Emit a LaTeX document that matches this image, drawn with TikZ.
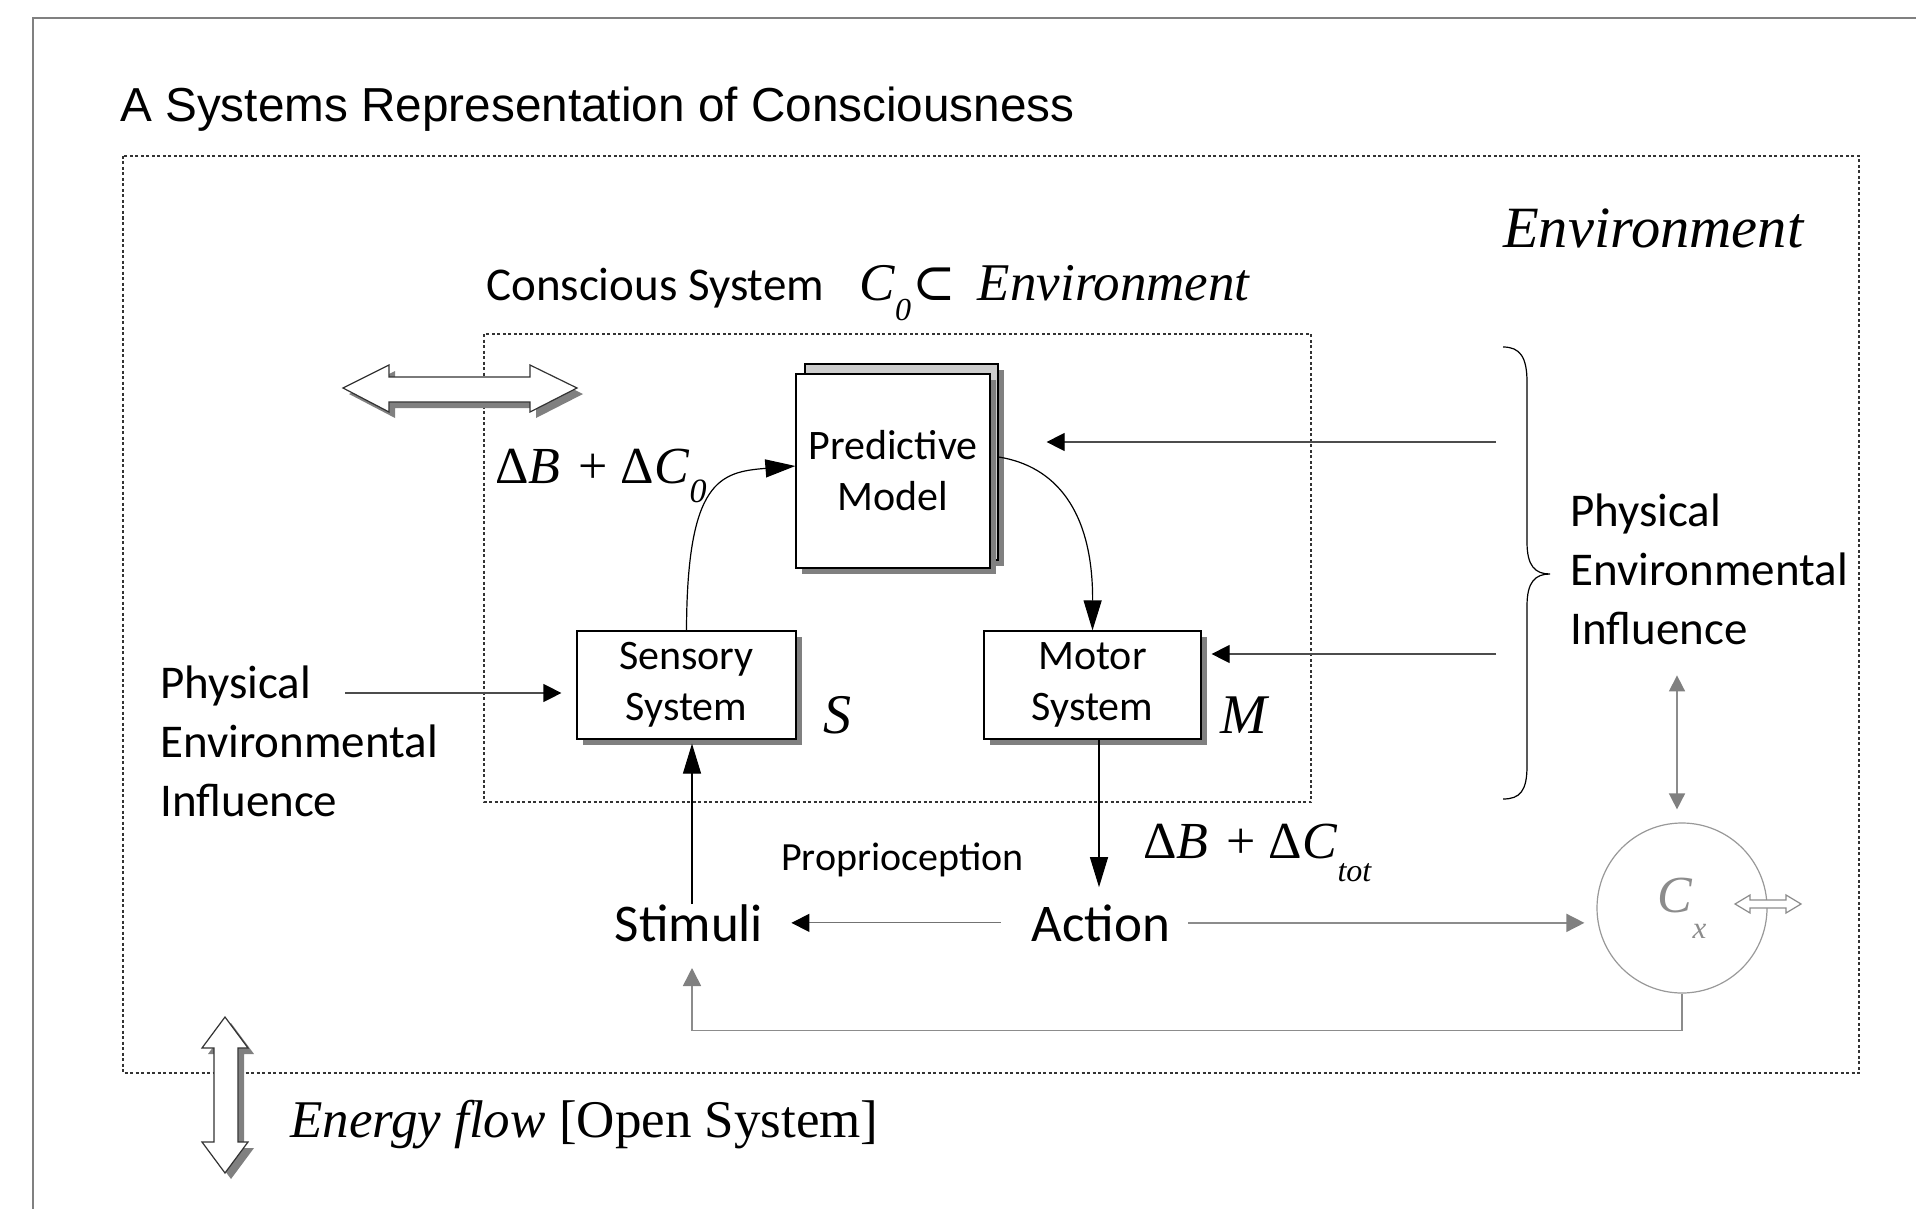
\documentclass[tikz,border=0pt]{standalone}
\usepackage{fontspec}
\setmainfont{Liberation Serif}
\newfontfamily\calfont{Carlito}
\newfontfamily\arifont{Liberation Sans}
\newfontfamily\dejafont{DejaVu Serif}
\usetikzlibrary{arrows.meta,shadows,calc}
\begin{document}
\begin{tikzpicture}[x=1pt,y=-1pt,
  box/.style={draw=black, line width=1.2pt, fill=white, inner sep=0pt,
    drop shadow={shadow xshift=6pt, shadow yshift=-6pt, fill=black!50, opacity=1},
    font=\calfont\fontsize{42}{51}\selectfont, align=center},
  dotted frame/.style={draw=black!80, line width=1.2pt, dash pattern=on 3pt off 2.5pt},
  bigarr/.style={draw=black, line width=1.2pt, -{Triangle[length=30pt,width=18pt]}},
  smarr/.style={draw=black!70, line width=1.2pt, -{Triangle[length=18pt,width=18pt,color=black]}},
  garr/.style={draw=black!45, line width=1.6pt, -{Triangle[length=18pt,width=18pt,color=black!50]}},
  gdarr/.style={draw=black!45, line width=1.6pt, {Triangle[length=16pt,width=16pt,color=black!50]}-{Triangle[length=16pt,width=16pt,color=black!50]}},
  caltext/.style={font=\calfont\fontsize{47}{59}\selectfont, inner sep=0pt, align=left},
  plain/.style={inner sep=0pt}
]
\useasboundingbox (0,0) rectangle (1916,1209);
\fill[white] (0,0) rectangle (1916,1209);
% page border
\draw[black!50, line width=2.5pt] (33,1209) -- (33,18) -- (1916,18);
% title
\node[plain, anchor=base west, font=\arifont\fontsize{47.7}{58}\selectfont] (title) at (120,122) {A Systems Representation of Consciousness};
% environment frame
\draw[dotted frame] (123,156) rectangle (1859,1073);
\node[plain, anchor=base west, font=\itshape\fontsize{58.5}{68}\selectfont] (envlab) at (1503,247) {Environment};
% conscious system frame
\draw[dotted frame] (484,334) rectangle (1311,802);
\node[plain, anchor=base west, font=\calfont\fontsize{47}{56}\selectfont] (cslab) at (486,300) {Conscious System};
\node[plain, anchor=base west, font=\fontsize{53}{60}\selectfont] (csmath) at (859,300)
  {\textit{C}\raisebox{-0.38em}{\fontsize{32}{32}\selectfont\textit{0}}\hspace{1pt}{\dejafont\fontsize{52}{56}\selectfont ⊂}\hspace{0.42em}\textit{Environment}};
% block arrow top-left
\fill[black!50] ($(343,388)+(6,6)$) -- ++(46,-23) -- ++(0,12) -- ++(141,0) -- ++(0,-12) -- ++(47,23) -- ++(-47,24) -- ++(0,-10) -- ++(-141,0) -- ++(0,10) -- cycle;
\draw[black!80, line width=1.2pt, fill=white] (343,388) -- ++(46,-23) -- ++(0,12) -- ++(141,0) -- ++(0,-12) -- ++(47,23) -- ++(-47,24) -- ++(0,-10) -- ++(-141,0) -- ++(0,10) -- cycle;
% energy arrow
\fill[black!50] ($(225,1017)+(6,6)$) -- ++(23,31) -- ++(-10,0) -- ++(0,94) -- ++(10,0) -- ++(-23,31) -- ++(-23,-31) -- ++(12,0) -- ++(0,-94) -- ++(-12,0) -- cycle;
\draw[black!80, line width=1.2pt, fill=white] (225,1017) -- ++(23,31) -- ++(-10,0) -- ++(0,94) -- ++(10,0) -- ++(-23,31) -- ++(-23,-31) -- ++(12,0) -- ++(0,-94) -- ++(-12,0) -- cycle;
\node[plain, anchor=base west, font=\fontsize{53}{60}\selectfont] (energy) at (290,1137) {\textit{Energy flow} [Open System]};
% predictive model
\node[box, fill=black!20, minimum width=193pt, minimum height=196pt] (pmback) at (901.5,462) {};
\node[box, minimum width=194pt, minimum height=194pt] (pm) at (893,471) {Predictive\\Model};
% sensory / motor
\node[box, minimum width=219pt, minimum height=108pt] (ss) at (686.5,685) {Sensory\\System};
\node[box, minimum width=217pt, minimum height=108pt] (ms) at (1092.5,685) {Motor\\System};
\node[plain, anchor=base, font=\itshape\fontsize{56}{60}\selectfont] (slab) at (837,733) {S};
\node[plain, anchor=base, font=\itshape\fontsize{56}{60}\selectfont] (mlab) at (1244,733) {M};
% delta labels
\node[plain, anchor=base west, font=\fontsize{52}{60}\selectfont] (dc0) at (495,483)
  {Δ\textit{B}\hspace{0.35em}+\hspace{0.25em}Δ\textit{C}\raisebox{-0.38em}{\fontsize{34}{34}\selectfont\textit{0}}};
\node[plain, anchor=base west, font=\fontsize{52}{60}\selectfont] (dctot) at (1143,858)
  {Δ\textit{B}\hspace{0.35em}+\hspace{0.25em}Δ\textit{C}\raisebox{-0.45em}{\fontsize{32}{32}\selectfont\textit{tot}}};
% physical influence texts (anchor = baseline of last line)
\node[caltext, anchor=base west] (phl) at (160,816) {Physical\\Environmental\\Influence};
\node[caltext, anchor=base west] (phr) at (1570,644) {Physical\\Environmental\\Influence};
% stimuli / action
\node[plain, anchor=base, font=\calfont\fontsize{53}{60}\selectfont] (stim) at (689,941) {Stimuli};
\node[plain, anchor=base, font=\calfont\fontsize{53}{60}\selectfont] (act) at (1101,941) {Action};
\node[plain, anchor=base west, font=\calfont\fontsize{40}{48}\selectfont] (prop) at (781,870) {Proprioception};
% Cx
\node[circle, draw=black!40, line width=1.2pt, minimum size=170pt, inner sep=0pt, text=black!45, font=\fontsize{52}{54}\selectfont] (cx) at (1682,908)
  {\textit{C}\raisebox{-0.5em}{\fontsize{31}{31}\selectfont\textit{x}}};
\draw[black!45, line width=1.2pt, fill=white] (1735,904) -- ++(15,-9) -- ++(0,5) -- ++(36,0) -- ++(0,-5) -- ++(15,9) -- ++(-15,9) -- ++(0,-5) -- ++(-36,0) -- ++(0,5) -- cycle;
% brace
\draw[black, line width=1.2pt] (1503,347) .. controls (1520,347) and (1527,357) .. (1527,382) -- (1527,542) .. controls (1527,566) and (1535,574) .. (1550,574) .. controls (1535,574) and (1527,582) .. (1527,606) -- (1527,766) .. controls (1527,791) and (1520,799) .. (1503,799);
\coordinate (b1) at (1496,442);
\coordinate (b2) at (1496,654);
\coordinate (pl) at (345,693);
% connectors
\draw[bigarr] (ss.north) .. controls (687,480) and (720,472) .. ([yshift=5pt]pm.west);
\draw[bigarr] ([yshift=5pt]pmback.east) .. controls (1055,466) and (1093,510) .. (ms.north);
\draw[smarr] (b1) -- ([xshift=48pt]pmback.east |- b1);
\draw[smarr] (b2) -- ([xshift=10pt]ms.east |- b2);
\draw[smarr] (pl) -- ([xshift=-15pt]ss.west |- pl);
\draw[bigarr] ([xshift=3pt]stim.north) -- ([xshift=3pt,yshift=-4pt]stim.north |- ss.south);
\draw[bigarr] ([xshift=6.5pt]ms.south) -- ([xshift=6.5pt,yshift=17pt]ms.south |- act.north);
\draw[smarr, draw=black!55] ([xshift=-31pt]act.west) -- ([xshift=28pt]stim.east |- act.west);
\draw[garr] ([xshift=18pt]act.east) -- ([xshift=-12pt]cx.west |- act.east);
\draw[gdarr] ([xshift=-5pt,yshift=13pt]cx.north) -- ++(0,-134);
\draw[garr] (cx.south) -- ++(0,37) -| ([shift={(3pt,-27pt)}]stim.base);
\end{tikzpicture}
\end{document}
